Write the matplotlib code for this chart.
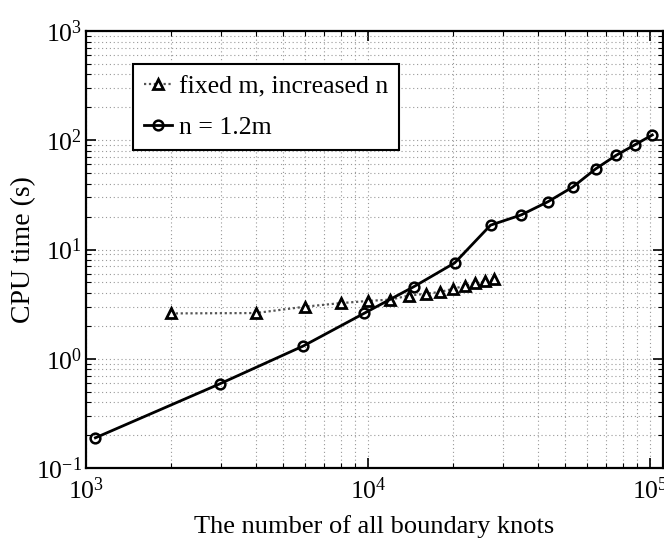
import matplotlib
matplotlib.use("Agg")
import matplotlib.pyplot as plt
from matplotlib.ticker import LogLocator, LogFormatterSciNotation, NullFormatter

# ---- data ----
fixed_x = [2000, 4000, 6000, 8000, 10000, 12000, 14000, 16000, 18000, 20000,
           22000, 24000, 26000, 28000]
fixed_y = [2.60, 2.62, 3.00, 3.23, 3.38, 3.48, 3.79, 3.93, 4.09, 4.36,
           4.65, 4.89, 5.10, 5.32]

n12_x = [1080, 2980, 5900, 9700, 14500, 20300, 27200, 34900, 43500, 53300,
         64100, 75700, 88200, 101900]
n12_y = [0.189, 0.589, 1.31, 2.61, 4.55, 7.54, 16.7, 20.7, 27.4, 37.4,
         54.6, 72.6, 90.6, 111.8]

labels = ["fixed m, increased n", "n = 1.2m"]
xlabel = "The number of all boundary knots"
ylabel = "CPU time (s)"

plt.rcParams['font.family'] = ['Liberation Serif', 'DejaVu Serif']
plt.rcParams['mathtext.fontset'] = 'custom'
plt.rcParams['mathtext.rm'] = 'Liberation Serif'
plt.rcParams['mathtext.it'] = 'Liberation Serif:italic'
plt.rcParams['mathtext.bf'] = 'Liberation Serif:bold'

fig = plt.figure(figsize=(6.64, 5.49), dpi=100)
ax = fig.add_axes([86/664, (549-468)/549, 577/664, 437/549])

ax.plot(fixed_x, fixed_y, linestyle=(0, (1, 1.2)), color='#555555', linewidth=1.6,
        marker='^', markersize=7, markerfacecolor='white', markeredgecolor='black',
        markeredgewidth=2.0, label=labels[0], zorder=3)
ax.plot(n12_x, n12_y, linestyle='-', color='black', linewidth=2.0,
        marker='o', markersize=7, markerfacecolor='none', markeredgecolor='black',
        markeredgewidth=1.8, label=labels[1], zorder=4)

ax.set_xscale('log')
ax.set_yscale('log')
ax.set_xlim(1e3, 10**(3 + 577/282))
ax.set_ylim(0.1, 1000)

for axis in (ax.xaxis, ax.yaxis):
    axis.set_major_locator(LogLocator(base=10, numticks=10))
    axis.set_minor_locator(LogLocator(base=10, subs=range(2, 10), numticks=20))
    axis.set_major_formatter(LogFormatterSciNotation())
    axis.set_minor_formatter(NullFormatter())

ax.grid(True, which='both', linestyle=(0, (1, 2.5)), color='#999999', linewidth=0.8)
ax.set_axisbelow(True)

ax.tick_params(which='both', direction='in', top=True, right=True, labelsize=18.5)
ax.tick_params(which='major', length=7, width=1.2)
ax.tick_params(which='minor', length=3.5, width=0.8)
ax.tick_params(axis='x', which='major', pad=7)
ax.tick_params(axis='y', which='major', pad=3)

for sp in ax.spines.values():
    sp.set_linewidth(1.6)
    sp.set_color('black')

ax.set_xlabel(xlabel, fontsize=19, labelpad=8)
ax.set_ylabel(ylabel, fontsize=20, labelpad=0)

leg = ax.legend(loc='upper left', bbox_to_anchor=(0.082, 0.924), borderaxespad=0,
                fontsize=18.5, fancybox=False, framealpha=1, edgecolor='black',
                handlelength=1.1, handletextpad=0.25, borderpad=0.42,
                labelspacing=0.72)
leg.get_frame().set_linewidth(1.5)

fig.savefig("out.png", dpi=100)
